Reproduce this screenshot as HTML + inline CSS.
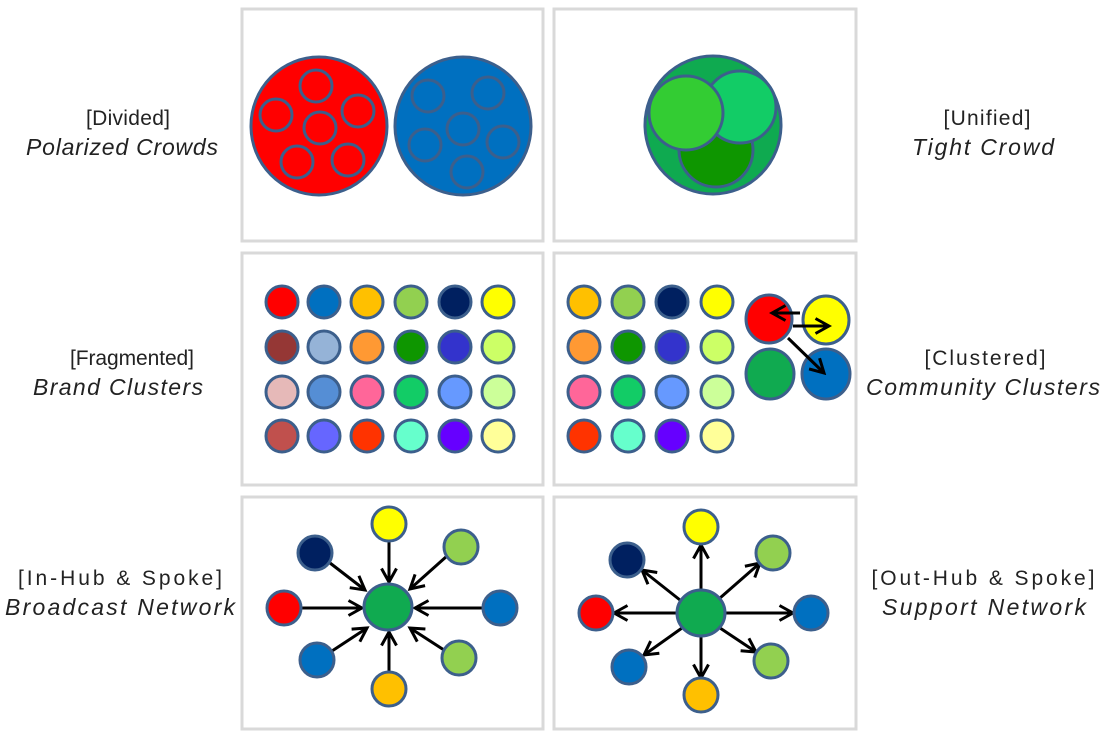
<!DOCTYPE html>
<html><head><meta charset="utf-8"><style>
html,body{margin:0;padding:0;background:#fff}
svg{display:block}
text{font-family:"Liberation Sans",sans-serif;font-size:23px;fill:#222}
text.b{font-size:21px}
</style></head><body>
<svg width="1105" height="739" viewBox="0 0 1105 739" xmlns="http://www.w3.org/2000/svg">
<defs>
<marker id="ah" viewBox="0 0 12 12" refX="10" refY="6" markerWidth="6" markerHeight="6" orient="auto" markerUnits="strokeWidth">
<path d="M1,1 L10,6 L1,11" fill="none" stroke="#000" stroke-width="2"/>
</marker>
</defs>
<g fill="none" stroke="#d9d9d9" stroke-width="3">
<rect x="242" y="9" width="301" height="232"/>
<rect x="554" y="9" width="302" height="232"/>
<rect x="242" y="253" width="301" height="232"/>
<rect x="554" y="253" width="302" height="232"/>
<rect x="242" y="497" width="301" height="232"/>
<rect x="554" y="497" width="302" height="232"/>
</g>
<text class="b" x="128" y="125" text-anchor="middle" textLength="84">[Divided]</text>
<text x="122" y="155" text-anchor="middle" font-style="italic" textLength="192">Polarized Crowds</text>
<text class="b" x="987" y="125" text-anchor="middle" textLength="87">[Unified]</text>
<text x="983" y="155" text-anchor="middle" font-style="italic" textLength="142">Tight Crowd</text>
<text class="b" x="132" y="365" text-anchor="middle" textLength="124">[Fragmented]</text>
<text x="118" y="395" text-anchor="middle" font-style="italic" textLength="170">Brand Clusters</text>
<text class="b" x="985" y="365" text-anchor="middle" textLength="121">[Clustered]</text>
<text x="983" y="395" text-anchor="middle" font-style="italic" textLength="234">Community Clusters</text>
<text class="b" x="120" y="585" text-anchor="middle" textLength="204">[In-Hub &amp; Spoke]</text>
<text x="120" y="615" text-anchor="middle" font-style="italic" textLength="230">Broadcast Network</text>
<text class="b" x="983" y="585" text-anchor="middle" textLength="223">[Out-Hub &amp; Spoke]</text>
<text x="984" y="615" text-anchor="middle" font-style="italic" textLength="204">Support Network</text>

<g stroke="#3c5f8c" stroke-width="3">
<ellipse cx="319" cy="126" rx="68" ry="69" fill="#ff0000"/>
<g fill="none">
<circle cx="316" cy="86" r="16"/><circle cx="276" cy="115" r="16"/><circle cx="358" cy="111" r="16"/>
<circle cx="320" cy="128" r="16"/><circle cx="297" cy="162" r="16"/><circle cx="348" cy="160" r="16"/>
</g>
<ellipse cx="463" cy="126" rx="68" ry="69" fill="#0070c0"/>
<g fill="none">
<circle cx="428" cy="96" r="16"/><circle cx="488" cy="93" r="16"/><circle cx="463" cy="129" r="16"/>
<circle cx="425" cy="145" r="16"/><circle cx="503" cy="142" r="16"/><circle cx="467" cy="172" r="16"/>
</g>
<ellipse cx="713" cy="125" rx="68" ry="69" fill="#0faa50"/>
<circle cx="716" cy="150" r="37" fill="#0e9600"/>
<circle cx="740" cy="107" r="36" fill="#12cc66"/>
<circle cx="686" cy="113" r="37" fill="#33cc33"/>

<g>
<circle cx="282" cy="302" r="16" fill="#ff0000"/><circle cx="324" cy="302" r="16" fill="#0070c0"/><circle cx="367" cy="302" r="16" fill="#ffc000"/><circle cx="411" cy="302" r="16" fill="#92d050"/><circle cx="455" cy="302" r="16" fill="#002060"/><circle cx="498" cy="302" r="16" fill="#ffff00"/>
<circle cx="282" cy="347" r="16" fill="#953735"/><circle cx="324" cy="347" r="16" fill="#95b3d7"/><circle cx="367" cy="347" r="16" fill="#ff9933"/><circle cx="411" cy="347" r="16" fill="#0e9600"/><circle cx="455" cy="347" r="16" fill="#3333cc"/><circle cx="498" cy="347" r="16" fill="#ccff66"/>
<circle cx="282" cy="392" r="16" fill="#e6b9b8"/><circle cx="324" cy="392" r="16" fill="#558ed5"/><circle cx="367" cy="392" r="16" fill="#ff6699"/><circle cx="411" cy="392" r="16" fill="#12cc66"/><circle cx="455" cy="392" r="16" fill="#6699ff"/><circle cx="498" cy="392" r="16" fill="#ccff99"/>
<circle cx="282" cy="436" r="16" fill="#c0504d"/><circle cx="324" cy="436" r="16" fill="#6666ff"/><circle cx="367" cy="436" r="16" fill="#ff3300"/><circle cx="411" cy="436" r="16" fill="#66ffcc"/><circle cx="455" cy="436" r="16" fill="#6600ff"/><circle cx="498" cy="436" r="16" fill="#ffff99"/>
</g>
<g>
<circle cx="584" cy="302" r="16" fill="#ffc000"/><circle cx="628" cy="302" r="16" fill="#92d050"/><circle cx="672" cy="302" r="16" fill="#002060"/><circle cx="717" cy="302" r="16" fill="#ffff00"/>
<circle cx="584" cy="347" r="16" fill="#ff9933"/><circle cx="628" cy="347" r="16" fill="#0e9600"/><circle cx="672" cy="347" r="16" fill="#3333cc"/><circle cx="717" cy="347" r="16" fill="#ccff66"/>
<circle cx="584" cy="392" r="16" fill="#ff6699"/><circle cx="628" cy="392" r="16" fill="#12cc66"/><circle cx="672" cy="392" r="16" fill="#6699ff"/><circle cx="717" cy="392" r="16" fill="#ccff99"/>
<circle cx="584" cy="436" r="16" fill="#ff3300"/><circle cx="628" cy="436" r="16" fill="#66ffcc"/><circle cx="672" cy="436" r="16" fill="#6600ff"/><circle cx="717" cy="436" r="16" fill="#ffff99"/>
<ellipse cx="769" cy="319" rx="23" ry="24" fill="#ff0000"/>
<ellipse cx="826" cy="320" rx="23" ry="24" fill="#ffff00"/>
<ellipse cx="770" cy="374" rx="24" ry="25" fill="#10aa50"/>
<ellipse cx="826" cy="374" rx="24" ry="25" fill="#0070c0"/>
</g>
</g>
<g stroke="#000" stroke-width="3" fill="none">
<line x1="800" y1="313" x2="772" y2="313" marker-end="url(#ah)"/>
<line x1="793" y1="326" x2="829" y2="326" marker-end="url(#ah)"/>
<line x1="788" y1="338" x2="824" y2="373" marker-end="url(#ah)"/>
</g>

<g stroke="#000" stroke-width="3" marker-end="url(#ah)">
<line x1="389" y1="541" x2="389" y2="582"/>
<line x1="330" y1="563" x2="365" y2="590"/>
<line x1="447" y1="556" x2="410" y2="589"/>
<line x1="301" y1="608" x2="362" y2="608"/>
<line x1="483" y1="608" x2="415" y2="608"/>
<line x1="332" y1="651" x2="367" y2="628"/>
<line x1="444" y1="650" x2="410" y2="628"/>
<line x1="389" y1="672" x2="389" y2="632"/>
</g>
<g stroke="#3c5f8c" stroke-width="3">
<circle cx="389" cy="524" r="17" fill="#ffff00"/>
<circle cx="315" cy="553" r="17" fill="#002060"/>
<circle cx="461" cy="547" r="17" fill="#92d050"/>
<circle cx="284" cy="608" r="17" fill="#ff0000"/>
<circle cx="500" cy="608" r="17" fill="#0070c0"/>
<circle cx="317" cy="660" r="17" fill="#0070c0"/>
<circle cx="459" cy="658" r="17" fill="#92d050"/>
<circle cx="389" cy="689" r="17" fill="#ffc000"/>
<ellipse cx="388" cy="607" rx="24" ry="23" fill="#10aa50"/>
</g>

<g stroke="#000" stroke-width="3" marker-end="url(#ah)">
<line x1="701" y1="590" x2="701" y2="545"/>
<line x1="680" y1="600" x2="642" y2="570"/>
<line x1="720" y1="598" x2="760" y2="563"/>
<line x1="677" y1="613" x2="614" y2="613"/>
<line x1="725" y1="613" x2="793" y2="613"/>
<line x1="682" y1="628" x2="644" y2="655"/>
<line x1="720" y1="628" x2="756" y2="652"/>
<line x1="701" y1="636" x2="701" y2="678"/>
</g>
<g stroke="#3c5f8c" stroke-width="3">
<circle cx="701" cy="527" r="17" fill="#ffff00"/>
<circle cx="627" cy="560" r="17" fill="#002060"/>
<circle cx="773" cy="553" r="17" fill="#92d050"/>
<circle cx="596" cy="613" r="17" fill="#ff0000"/>
<circle cx="811" cy="613" r="17" fill="#0070c0"/>
<circle cx="629" cy="667" r="17" fill="#0070c0"/>
<circle cx="771" cy="661" r="17" fill="#92d050"/>
<circle cx="701" cy="695" r="17" fill="#ffc000"/>
<ellipse cx="701" cy="613" rx="24" ry="23" fill="#10aa50"/>
</g>
</svg>
</body></html>
